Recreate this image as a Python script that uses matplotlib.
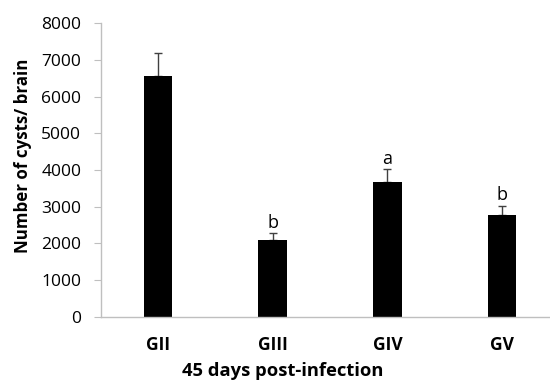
import matplotlib.pyplot as plt
import numpy as np

plt.rcParams['font.family'] = ['Open Sans', 'DejaVu Sans']

groups = ['GII', 'GIII', 'GIV', 'GV']
cysts = [6570, 2090, 3680, 2780]
errors = [610, 180, 340, 250]
letters = ['', 'b', 'a', 'b']

fig = plt.figure(figsize=(5.5, 3.82), dpi=100)
ax = fig.add_axes([0.183, 0.171, 0.817, 0.768])

x = np.arange(len(groups))
ax.bar(x, cysts, width=0.25, color='black', zorder=2)
ax.errorbar(x, cysts, yerr=[np.zeros(len(errors)), errors], fmt='none',
            ecolor='#404040', elinewidth=1, capsize=3, capthick=1, zorder=1)

for xi, v, e, t in zip(x, cysts, errors, letters):
    if t:
        ax.annotate(t, (xi, v + e), xytext=(0, 1), textcoords='offset points',
                    ha='center', va='bottom', fontsize=13)

ax.set_xlim(-0.5, 3.418)
ax.set_ylim(0, 8000)
ax.set_yticks(range(0, 8001, 1000))
ax.set_xticks(x)
ax.set_xticklabels(groups, fontweight='bold', fontsize=12.5)
ax.tick_params(axis='x', length=0, pad=14)
ax.tick_params(axis='y', length=5, color='#BFBFBF', labelsize=12.5, pad=9)

for s in ['top', 'right']:
    ax.spines[s].set_visible(False)
for s in ['left', 'bottom']:
    ax.spines[s].set_color('#BFBFBF')
    ax.spines[s].set_linewidth(1)

# Excel-style placement: y label hugs the left edge, slightly above centre
ax.set_ylabel('Number of cysts/ brain', fontweight='bold', fontsize=12.2)
ax.yaxis.set_label_coords(-0.153, 0.55)
ax.set_xlabel('45 days post-infection', fontweight='bold', fontsize=13.2)
ax.xaxis.set_label_coords(0.405, -0.155)

fig.savefig('out.png', dpi=100)
